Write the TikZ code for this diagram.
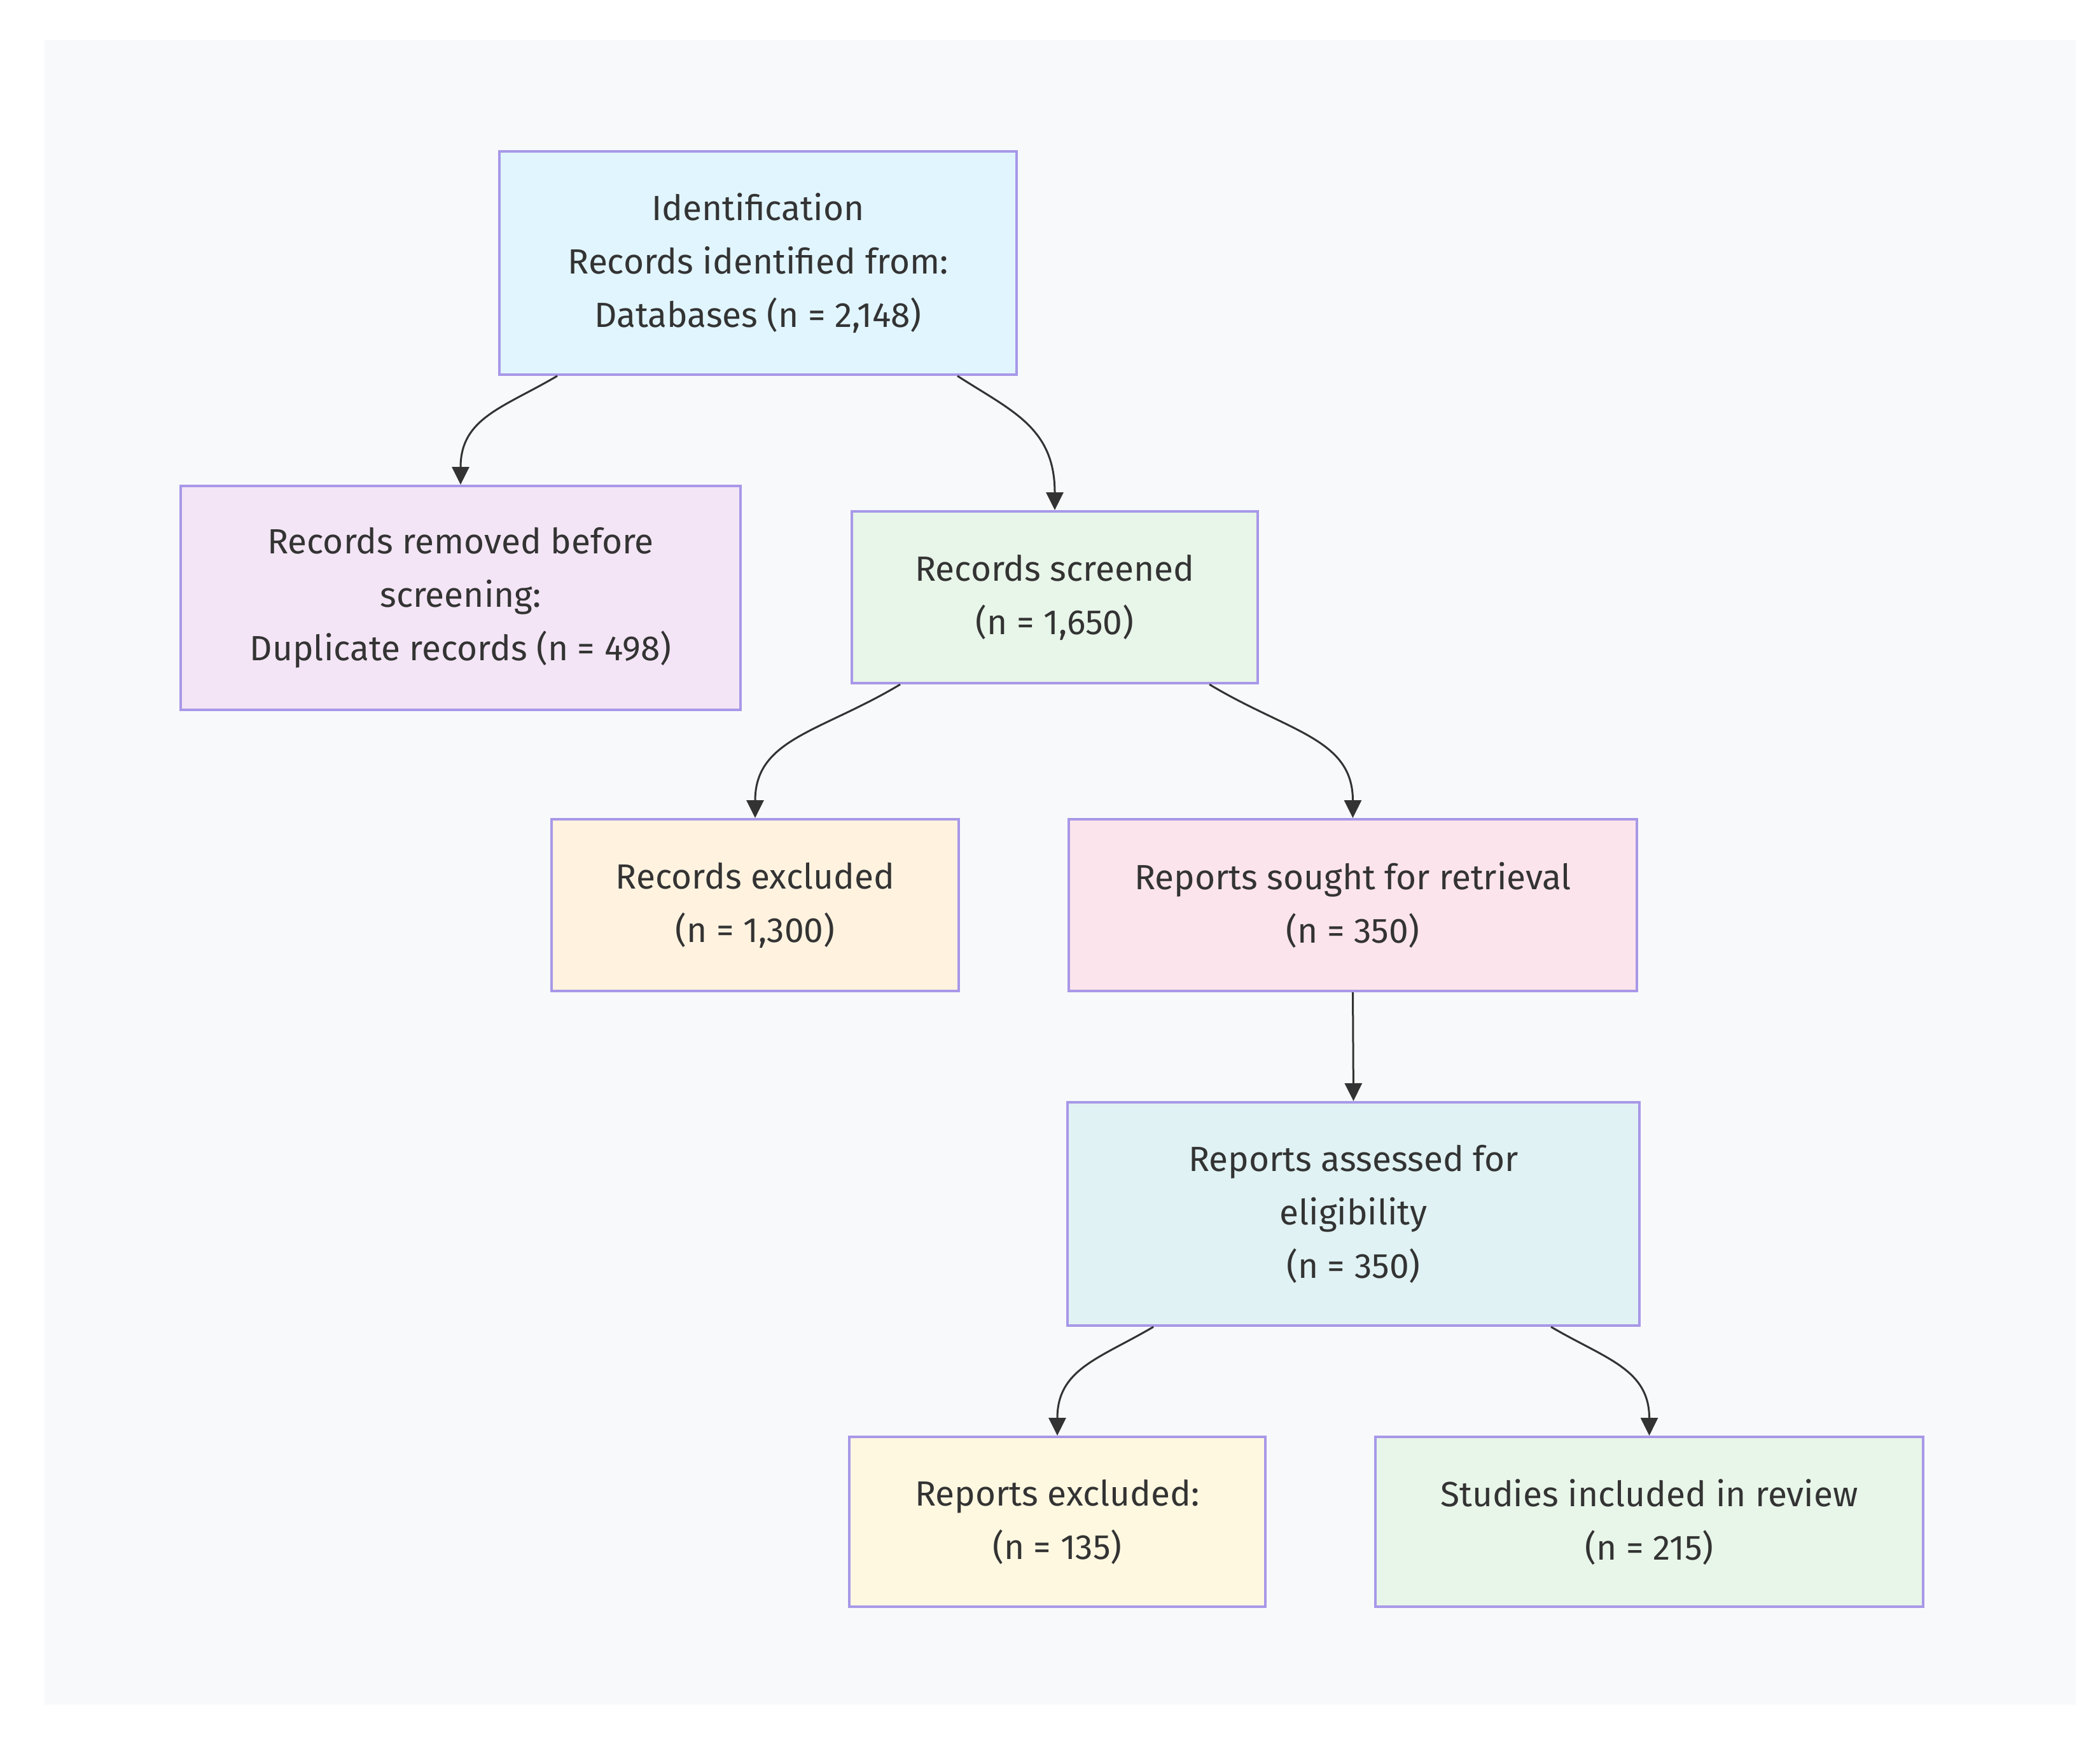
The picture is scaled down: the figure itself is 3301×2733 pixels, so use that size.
\documentclass[tikz,border=0pt]{standalone}
\usepackage{fontspec}
\setmainfont{Fira Sans}
\usetikzlibrary{arrows.meta}

\definecolor{panelbg}{HTML}{F8F9FB}
\definecolor{boxline}{HTML}{A898E8}
\definecolor{inkgrey}{HTML}{333333}
\definecolor{fillident}{HTML}{E1F5FE}
\definecolor{fillremoved}{HTML}{F3E5F5}
\definecolor{fillscreen}{HTML}{E8F5E9}
\definecolor{fillrecexcl}{HTML}{FFF3E0}
\definecolor{fillsought}{HTML}{FCE4EC}
\definecolor{fillassess}{HTML}{E0F2F3}
\definecolor{fillrepexcl}{HTML}{FFF8E1}
\definecolor{fillincl}{HTML}{E8F5E9}

\begin{document}
\begin{tikzpicture}[x=0.2pt,y=0.2pt,yscale=-1,xscale=1,
  flowbox/.style={draw=boxline,line width=0.8pt,rectangle,align=center,inner sep=0pt,
    text=inkgrey,font=\fontsize{11}{16.8}\selectfont},
  flowarrow/.style={draw=inkgrey,line width=0.6pt,-{Triangle[length=5.6pt,width=5.4pt]}}]
%set diagram size 3301 x 2733
\path[use as bounding box] (0,0) rectangle (3301,2733);
\fill[white] (0,0) rectangle (3301,2733);
%Shape: Rectangle (panel)
\fill[panelbg] (70,63) rectangle (3263,2680);

%Shape: Rectangle (identification)
\node[flowbox,fill=fillident,minimum width=162.6pt,minimum height=70.2pt] (ident) at (1191.5,413.5)
  {Identification\\Records identified from:\\Databases (n = 2,148)};
%Shape: Rectangle (removed)
\node[flowbox,fill=fillremoved,minimum width=176pt,minimum height=70.4pt] (removed) at (724,940)
  {Records removed before\\screening:\\Duplicate records (n = 498)};
%Shape: Rectangle (screened)
\node[flowbox,fill=fillscreen,minimum width=127.6pt,minimum height=54pt] (screened) at (1658,939)
  {Records screened\\(n = 1,650)};
%Shape: Rectangle (records excluded)
\node[flowbox,fill=fillrecexcl,minimum width=128pt,minimum height=54pt] (recexcl) at (1187,1423)
  {Records excluded\\(n = 1,300)};
%Shape: Rectangle (sought)
\node[flowbox,fill=fillsought,minimum width=178.6pt,minimum height=54pt] (sought) at (2126.5,1423)
  {Reports sought for retrieval\\(n = 350)};
%Shape: Rectangle (assessed)
\node[flowbox,fill=fillassess,minimum width=179.8pt,minimum height=70.2pt] (assessed) at (2127.5,1908.5)
  {Reports assessed for\\eligibility\\(n = 350)};
%Shape: Rectangle (reports excluded)
\node[flowbox,fill=fillrepexcl,minimum width=130.8pt,minimum height=53.4pt] (repexcl) at (1662,2392.5)
  {Reports excluded:\\(n = 135)};
%Shape: Rectangle (included)
\node[flowbox,fill=fillincl,minimum width=172.2pt,minimum height=53.4pt] (included) at (2592.5,2392.5)
  {Studies included in review\\(n = 215)};

%Curved Lines
\draw[flowarrow] ([xshift=-63.1pt]ident.south) .. controls +(-85,50) and +(0,-105) .. (removed.north);
\draw[flowarrow] ([xshift=62.7pt]ident.south) .. controls +(85,55) and +(0,-130) .. (screened.north);
\draw[flowarrow] ([xshift=-48.6pt]screened.south) .. controls +(-125,75) and +(0,-125) .. (recexcl.north);
\draw[flowarrow] ([xshift=48.6pt]screened.south) .. controls +(125,75) and +(0,-125) .. (sought.north);
%Straight Lines
\draw[flowarrow] (sought.south) -- (assessed.north);
%Curved Lines
\draw[flowarrow] ([xshift=-62.9pt]assessed.south) .. controls +(-85,50) and +(0,-105) .. (repexcl.north);
\draw[flowarrow] ([xshift=62.1pt]assessed.south) .. controls +(85,50) and +(0,-105) .. (included.north);

\end{tikzpicture}
\end{document}
